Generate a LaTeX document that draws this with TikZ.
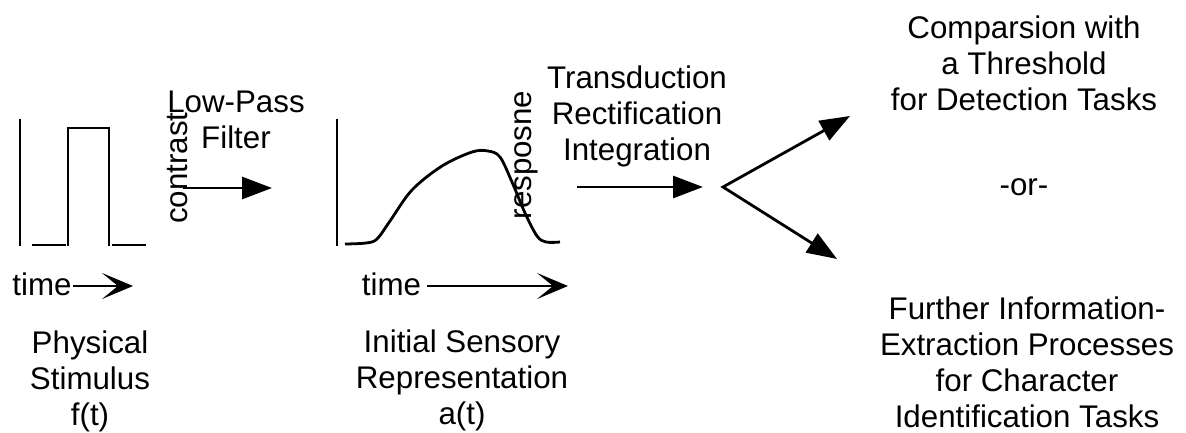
\documentclass[tikz,border=0pt]{standalone}
\usepackage{fontspec}
\setmainfont{Liberation Sans}
\usetikzlibrary{arrows.meta}
\newcommand{\mlines}[1]{\begin{tabular}[t]{@{}c@{}}#1\end{tabular}}
\begin{document}
\begin{tikzpicture}[x=1pt,y=-1pt,
  lbl/.style={font=\fontsize{31.3}{36}\selectfont, inner sep=0pt, anchor=base},
  sig/.style={line width=2.8pt},
  arr/.style={-{Triangle[length=30pt,width=22pt]}, line width=2.8pt},
  tarr/.style={-{Stealth[length=31pt,width=26pt,inset=16pt]}, line width=2.6pt}]
\useasboundingbox (0,0) rectangle (1186,432);

% left panel: physical stimulus
\draw[sig] (20,119) -- (20,246);
\draw[sig] (32,245) -- (66,245);
\draw[sig] (68,246) -- (68,128) -- (109,128) -- (109,246);
\draw[sig] (112,245) -- (146,245);

% middle panel: sensory representation
\draw[sig] (337,119) -- (337,246);
\draw[sig] plot[smooth, tension=0.55] coordinates {(345,244) (366,243) (377,239) (390,221) (412,190) (442,166) (472,152) (488,151) (500,157) (512,182) (525,213) (537,236) (546,242) (560,242)};

% labels
\node[lbl] (phys) at (90,353) {\mlines{Physical\\Stimulus\\f(t)}};
\node[lbl] (init) at (462,352) {\mlines{Initial Sensory\\Representation\\a(t)}};
\node[lbl] (lpf) at (236,112) {\mlines{Low-Pass\\Filter}};
\node[lbl] (trans) at (637,88) {\mlines{Transduction\\Rectification\\Integration}};
\node[lbl] (comp) at (1024,38) {\mlines{Comparsion with\\a Threshold\\for Detection Tasks}};
\node[lbl] (or) at (1024,195) {-or-};
\node[lbl] (furth) at (1027,319) {\mlines{Further Information-\\Extraction Processes\\for Character\\Identification Tasks}};
\node[lbl] (t1) at (42,295) {time};
\node[lbl] (t2) at (391.5,295) {time};
\node[lbl, rotate=90] (contrast) at (187,168) {contrast};
\node[lbl, rotate=90] (resp) at (531,155) {resposne};

% connectors
\coordinate (t1s) at (73,286);
\coordinate (t1e) at (133,286);
\coordinate (t2s) at (427,286);
\coordinate (t2e) at (568,286);
\draw[tarr] (t1s) -- (t1e);
\draw[tarr] (t2s) -- (t2e);

\coordinate (a1s) at (183,188);
\coordinate (a1e) at (272,188);
\draw[arr] (a1s) -- (a1e);
\coordinate (a2s) at (577,187);
\coordinate (a2e) at (703,187);
\draw[arr] (a2s) -- (a2e);

\coordinate (fork) at (723,187);
\coordinate (up) at (850,116);
\coordinate (dn) at (837,259);
\draw[line width=2.8pt, miter limit=20, {Triangle[length=30pt,width=22pt]}-{Triangle[length=30pt,width=22pt]}] (up) -- (fork) -- (dn);
\end{tikzpicture}
\end{document}
